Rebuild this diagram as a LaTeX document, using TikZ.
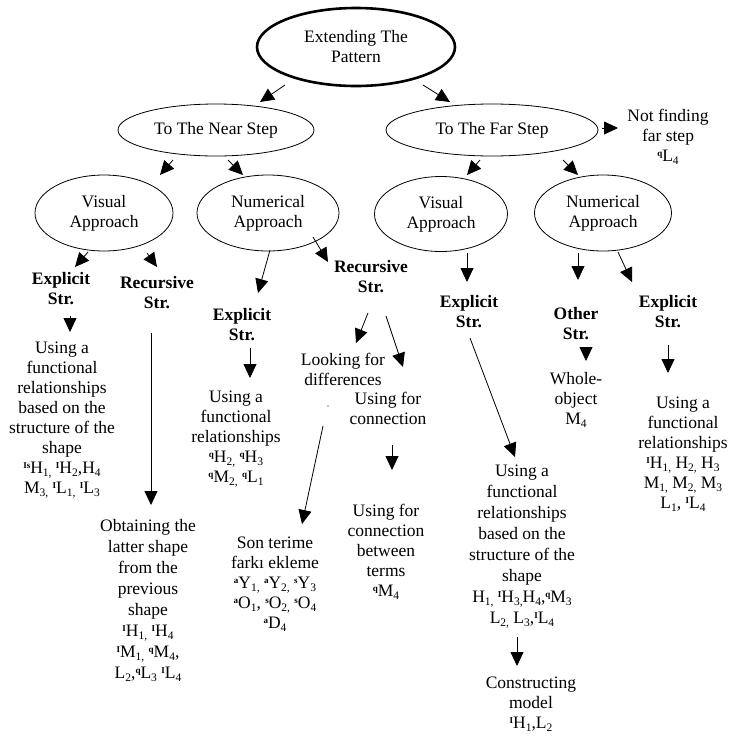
\documentclass[tikz,border=0pt]{standalone}
\usepackage{fontspec}
\setmainfont{Liberation Serif}
\usetikzlibrary{shapes.geometric, arrows.meta}

\newcommand{\mrk}[1]{\raisebox{0.6ex}{\fontsize{9}{9}\selectfont\bfseries #1}}
\newcommand{\idx}[1]{\raisebox{-0.35ex}{\fontsize{11.5}{11.5}\selectfont #1}}

\tikzset{
    oval/.style={draw, ellipse, inner sep=0pt, line width=0.8pt, align=center, font=\fontsize{17.5}{20}\selectfont},
    txt/.style={align=center, inner sep=0pt, anchor=north, font=\fontsize{17.5}{20}\selectfont},
    strat/.style={txt, font=\fontsize{17.5}{20}\selectfont\bfseries},
    arr/.style={-{Triangle[length=14pt, width=13pt]}, line width=0.8pt}
}

\begin{document}
\begin{tikzpicture}[x=1pt, y=-1pt]
        \useasboundingbox (0, 0) rectangle (731, 737);

        % ellipses
        \node[oval, line width=2.6pt, minimum width=198pt, minimum height=78pt] (root) at (356, 47) {Extending The\\Pattern};
        \node[oval, minimum width=196pt, minimum height=52pt] (near) at (216, 130) {To The Near Step};
        \node[oval, minimum width=212pt, minimum height=52pt] (far) at (492, 130) {To The Far Step};
        \node[oval, minimum width=138pt, minimum height=76pt] (vis1) at (104, 213) {Visual\\Approach};
        \node[oval, minimum width=142pt, minimum height=76pt] (num1) at (268, 213) {Numerical\\Approach};
        \node[oval, minimum width=133pt, minimum height=75pt] (vis2) at (441, 214) {Visual\\Approach};
        \node[oval, minimum width=137pt, minimum height=76pt] (num2) at (603, 213) {Numerical\\Approach};

        \node[txt] (notfar) at (668, 109) {Not finding\\far step\\\mrk{q}L\idx{4}};

        % strategies
        \node[strat] (ex1) at (61, 272) {Explicit\\Str.};
        \node[strat] (rec1) at (157, 276) {Recursive\\Str.};
        \node[strat] (ex2) at (242, 308) {Explicit\\Str.};
        \node[strat] (rec2) at (371, 260) {Recursive\\Str.};
        \node[strat] (ex3) at (469, 295) {Explicit\\Str.};
        \node[strat] (oth) at (576, 307) {Other\\Str.};
        \node[strat] (ex4) at (668, 295) {Explicit\\Str.};

        % results
        \node[txt] (fun1) at (62, 342) {Using a\\functional\\relationships\\based on the\\structure of the\\shape\\\mrk{Is}H\idx{1,} \mrk{I}H\idx{2},H\idx{4}\\M\idx{3,} \mrk{I}L\idx{1,} \mrk{I}L\idx{3}};
        \node[txt, font=\fontsize{17.5}{21}\selectfont] (obt) at (148, 519) {Obtaining the\\latter shape\\from the\\previous\\shape\\\mrk{I}H\idx{1,} \mrk{I}H\idx{4}\\\mrk{I}M\idx{1,} \mrk{q}M\idx{4},\\L\idx{2},\mrk{q}L\idx{3} \mrk{I}L\idx{4}};
        \node[txt] (fun2) at (236, 391) {Using a\\functional\\relationships\\\mrk{q}H\idx{2,} \mrk{q}H\idx{3}\\\mrk{q}M\idx{2,} \mrk{q}L\idx{1}};
        \node[txt] (look) at (343, 353) {Looking for\\differences};
        \node[txt] (con1) at (388, 392) {Using for\\connection};
        \node[txt] (con2) at (386, 504) {Using for\\connection\\between\\terms\\\mrk{q}M\idx{4}};
        \node[txt] (son) at (275, 537) {Son terime\\farkı ekleme\\\mrk{a}Y\idx{1,} \mrk{a}Y\idx{2,} \mrk{s}Y\idx{3}\\\mrk{a}O\idx{1}, \mrk{s}O\idx{2,} \mrk{s}O\idx{4}\\\mrk{a}D\idx{4}};
        \node[txt, font=\fontsize{17.5}{21}\selectfont] (fun3) at (522, 465) {Using a\\functional\\relationships\\based on the\\structure of the\\shape\\H\idx{1,} \mrk{I}H\idx{3,}H\idx{4},\mrk{q}M\idx{3}\\L\idx{2,} L\idx{3},\mrk{I}L\idx{4}};
        \node[txt] (cons) at (531, 677) {Constructing\\model\\\mrk{I}H\idx{1},L\idx{2}};
        \node[txt] (whole) at (576, 372) {Whole-\\object\\M\idx{4}};
        \node[txt] (fun4) at (683, 397) {Using a\\functional\\relationships\\\mrk{I}H\idx{1,} H\idx{2,} H\idx{3}\\M\idx{1,} M\idx{2,} M\idx{3}\\L\idx{1}, \mrk{I}L\idx{4}};

        \fill (328, 406) circle (0.7pt);

        % arrows
        \draw[arr] ([shift={(-71, 38)}]root.center) -- ([shift={(44, -28)}]near.center);
        \draw[arr] ([shift={(67, 38)}]root.center) -- ([shift={(-42, -28)}]far.center);
        \draw[arr] ([shift={(-43, 30)}]near.center) -- ([shift={(56, -38)}]vis1.center);
        \draw[arr] ([shift={(12, 30)}]near.center) -- ([shift={(-25, -38)}]num1.center);
        \draw[arr] ([shift={(-12, 30)}]far.center) -- ([shift={(26, -39)}]vis2.center);
        \draw[arr] ([shift={(71, 30)}]far.center) -- ([shift={(-25, -38)}]num2.center);
        \draw[arr] ([shift={(110, -2)}]far.center) -- ([shift={(-50, 19)}]notfar.north);

        \draw[arr] ([shift={(-16, 39)}]vis1.center) -- ([shift={(14, -5)}]ex1.north);
        \draw[arr] ([shift={(43, 40)}]vis1.center) -- ([shift={(0, -9)}]rec1.north);
        \draw[arr] ([shift={(2, 37)}]num1.center) -- ([shift={(16, -15)}]ex2.north);
        \draw[arr] ([shift={(45, 24)}]num1.center) -- ([shift={(-43, 2)}]rec2.north);
        \draw[arr] ([shift={(26, 39)}]vis2.center) -- ([shift={(-2, -13)}]ex3.north);
        \draw[arr] ([shift={(-25, 40)}]num2.center) -- ([shift={(2, -27)}]oth.north);
        \draw[arr] ([shift={(15, 39)}]num2.center) -- ([shift={(-36, -13)}]ex4.north);

        \draw[arr] ([shift={(9, 44)}]ex1.north) -- ([shift={(8, -10)}]fun1.north);
        \draw[arr] ([shift={(-6, 57)}]rec1.north) -- ([shift={(3, -14)}]obt.north);
        \draw[arr] ([shift={(8, 40)}]ex2.north) -- ([shift={(14, -13)}]fun2.north);
        \draw[arr] ([shift={(-3, 53)}]rec2.north) -- ([shift={(13, -10)}]look.north);
        \draw[arr] ([shift={(15, 56)}]rec2.north) -- ([shift={(15, -25)}]con1.north);
        \draw[arr] ([shift={(-20, 73)}]look.north) -- ([shift={(27, -13)}]son.north);
        \draw[arr] ([shift={(4, 53)}]con1.north) -- ([shift={(6, -34)}]con2.north);
        \draw[arr] ([shift={(1, 43)}]ex3.north) -- ([shift={(-7, -8)}]fun3.north);
        \draw[arr] ([shift={(-5, 172)}]fun3.north) -- ([shift={(-14, -11)}]cons.north);
        \draw[arr] ([shift={(10, 40)}]oth.north) -- ([shift={(10, -11)}]whole.north);
        \draw[arr] ([shift={(0, 50)}]ex4.north) -- ([shift={(-15, -24)}]fun4.north);

    \end{tikzpicture}
\end{document}
